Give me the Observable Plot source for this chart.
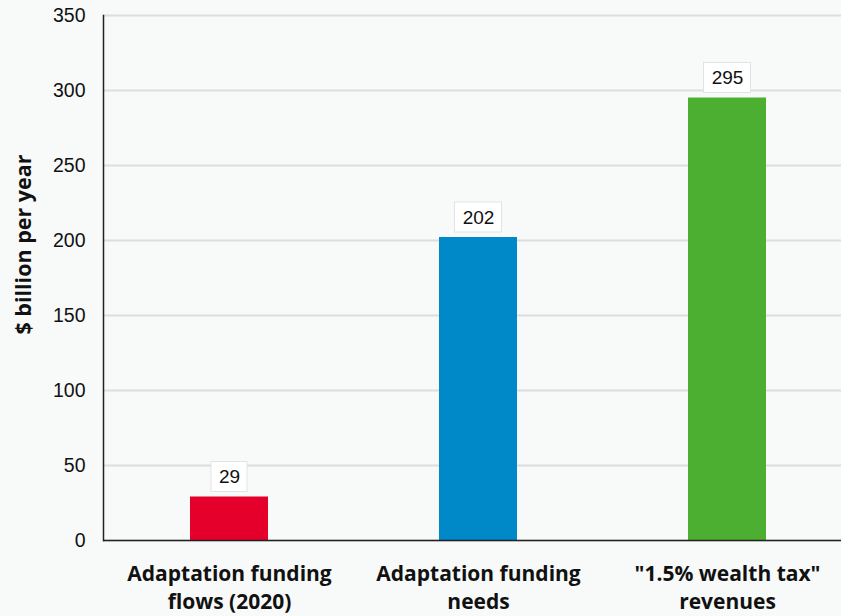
<!DOCTYPE html>
<html>
<head>
<meta charset="utf-8">
<script src="https://cdn.jsdelivr.net/npm/d3@7"></script>
<script src="https://cdn.jsdelivr.net/npm/@observablehq/plot@0.6"></script>
<style>
  html, body { margin: 0; padding: 0; background: #f8f9f9; overflow: hidden; }
  #chart svg { display: block; background: #f8f9f9; }
</style>
</head>
<body>
<div id="chart"></div>
<script>
const categories = ["Adaptation funding\nflows (2020)", "Adaptation funding\nneeds", "\"1.5% wealth tax\"\nrevenues"];
const values = [29, 202, 295];
const colors = ["#e4002b", "#0089c9", "#4caf32"];
const yTicks = [0, 50, 100, 150, 200, 250, 300, 350];
const yLabel = "$ billion per year";

const data = categories.map((c, i) => ({cat: c, value: values[i], color: colors[i]}));

const labelBoxes = data.map(d => {
  const w = 14 + 11 * String(d.value).length;
  const inset = (78 - w) / 2;
  return Plot.barY([d], {
    x: "cat", y1: "value", y2: "value",
    insetTop: -35, insetBottom: 5, insetLeft: inset, insetRight: inset,
    fill: "white", stroke: "#e2e4e4", strokeWidth: 1
  });
});

const chart = Plot.plot({
  width: 841,
  height: 616,
  marginTop: 15,
  marginLeft: 103,
  marginRight: 0,
  marginBottom: 76,
  style: {background: "#f8f9f9", fontFamily: "'Liberation Sans', Arial, sans-serif"},
  x: {domain: categories, range: [103, 852], paddingInner: 0.6875, paddingOuter: 0.34375, label: null},
  y: {domain: [0, 350], ticks: yTicks, label: null},
  marks: [
    Plot.gridY(yTicks, {stroke: "#dcdede", strokeOpacity: 1, strokeWidth: 2}),
    Plot.barY(data, {x: "cat", y: "value", fill: "color"}),
    ...labelBoxes,
    Plot.text(data, {x: "cat", y: "value", text: d => String(d.value), dy: -20, fontSize: 19, fill: "#111"}),
    Plot.ruleY([0], {stroke: "#222", strokeWidth: 1.5}),
    Plot.frame({anchor: "left", stroke: "#222", strokeWidth: 1.5}),
    Plot.axisY(yTicks, {tickSize: 0, tickPadding: 18, fontSize: 19.5, fill: "#111", label: null}),
    Plot.axisX({tickSize: 0, tickPadding: 21, fontSize: 21, fontWeight: "bold", fill: "#111", lineHeight: 1.33, lineAnchor: "top", fontFamily: "'Open Sans', sans-serif", label: null}),
    Plot.text([yLabel], {frameAnchor: "left", textAnchor: "middle", dx: -79, dy: -33.5, rotate: -90, fontSize: 21.5, fontWeight: "bold", fill: "#111", fontFamily: "'Open Sans', sans-serif"})
  ]
});
document.getElementById("chart").appendChild(chart);
</script>
</body>
</html>
